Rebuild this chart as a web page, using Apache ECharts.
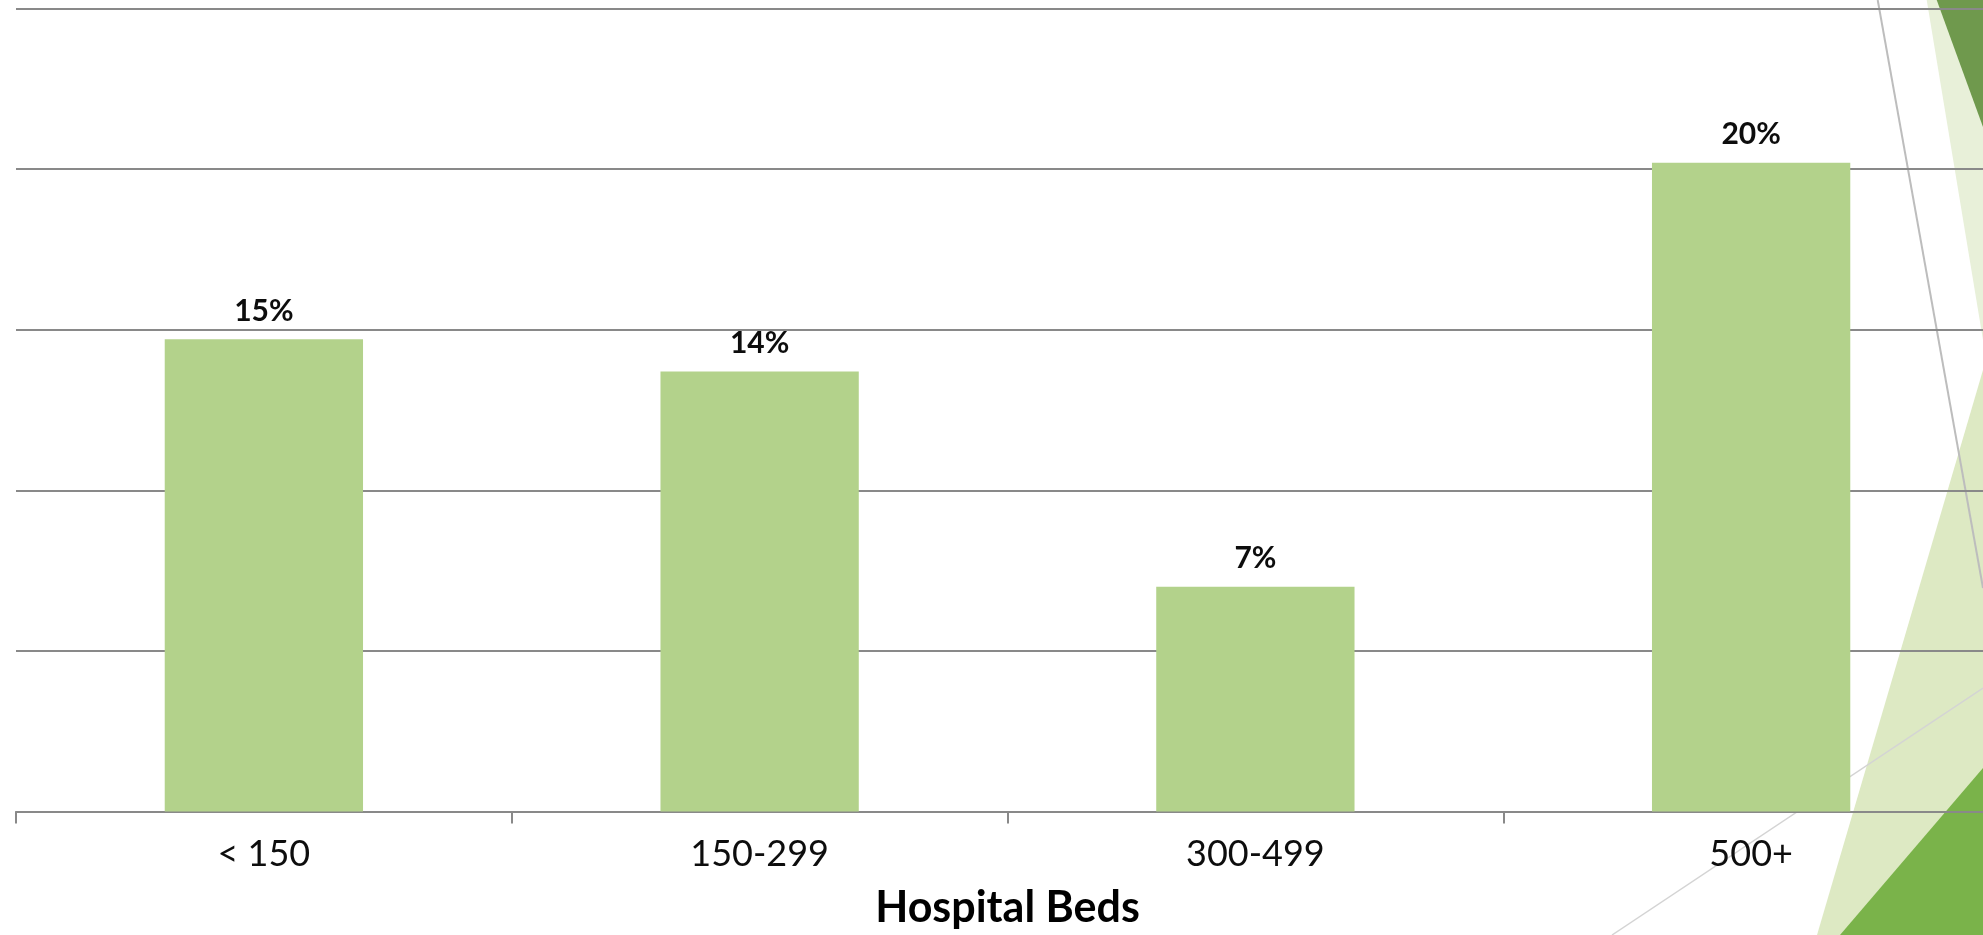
<!DOCTYPE html>
<html>
<head>
<meta charset="utf-8">
<script src="https://cdn.jsdelivr.net/npm/echarts@6/dist/echarts.min.js"></script>
<style>
html,body{margin:0;padding:0;background:#fff;}
#chart{width:1983px;height:935px;}
</style>
</head>
<body>
<div id="chart"></div>
<script>
// Data
const categories = ['< 150', '150-299', '300-499', '500+'];
const shareValues = [14.7, 13.7, 7.0, 20.2];
const axisTitle = 'Hospital Beds';

const chart = echarts.init(document.getElementById('chart'), null, {renderer: 'canvas'});

const W = 1983, H = 935;
const bgShapes = [
  {type: 'polygon', z: -10, shape: {points: [[1926.7, 0], [W, 0], [W, 340]]}, style: {fill: '#e8f0d9'}},
  {type: 'polygon', z: -9, shape: {points: [[1936.7, 0], [W, 0], [W, 127]]}, style: {fill: '#6f994d'}},
  {type: 'polygon', z: -10, shape: {points: [[W, 370], [1817, H], [W, H]]}, style: {fill: '#dde9c3'}},
  {type: 'polygon', z: -9, shape: {points: [[W, 768], [1840, H], [W, H]]}, style: {fill: '#7ab34a'}},
  {type: 'line', z: -8, shape: {x1: 1877.7, y1: 0, x2: W, y2: 588}, style: {stroke: '#bdbdbd', lineWidth: 2}},
  {type: 'line', z: -8, shape: {x1: 1612, y1: H, x2: W, y2: 688}, style: {stroke: '#d4d4d4', lineWidth: 1.5}}
];

chart.setOption({
  backgroundColor: '#ffffff',
  animation: false,
  graphic: {elements: bgShapes},
  grid: {left: 16, top: 8.5, width: 1983, height: 803, containLabel: false, outerBoundsMode: 'none'},
  xAxis: {
    type: 'category',
    data: categories,
    boundaryGap: true,
    axisLine: {show: true, lineStyle: {color: '#898989', width: 2}},
    axisTick: {show: true, length: 12, lineStyle: {color: '#898989', width: 2}},
    axisLabel: {color: '#0d0d0d', fontSize: 36, fontFamily: 'Lato', margin: 25},
    name: axisTitle,
    nameLocation: 'middle',
    nameGap: 75,
    nameTextStyle: {color: '#000', fontSize: 43, fontWeight: 'bold', fontFamily: 'Lato'}
  },
  yAxis: {
    type: 'value',
    min: 0,
    max: 25,
    interval: 5,
    axisLine: {show: false},
    axisTick: {show: false},
    axisLabel: {show: false},
    splitLine: {show: true, lineStyle: {color: '#898989', width: 2}}
  },
  series: [{
    type: 'bar',
    data: shareValues,
    barWidth: '40%',
    itemStyle: {color: '#b3d28b'},
    label: {
      show: true,
      position: 'top',
      distance: 13,
      color: '#0d0d0d',
      fontSize: 30,
      fontWeight: 'bold',
      fontFamily: 'Lato',
      formatter: p => Math.round(p.value) + '%'
    }
  }]
});
</script>
</body>
</html>
